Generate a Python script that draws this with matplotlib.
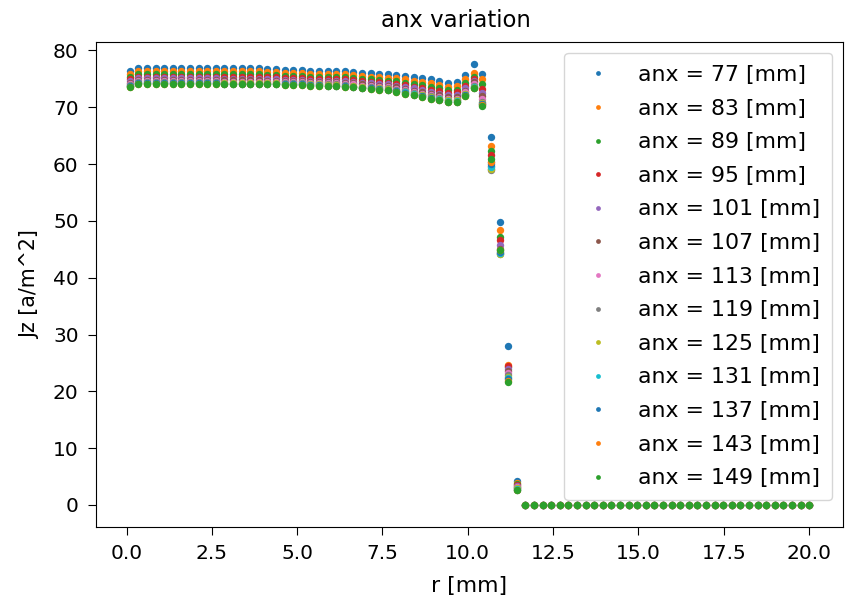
import matplotlib
matplotlib.use("Agg")
import matplotlib.pyplot as plt

# radial sample positions [mm]
r = [0.10, 0.35, 0.60, 0.86, 1.11, 1.36, 1.61, 1.86, 2.12, 2.37,
     2.62, 2.87, 3.12, 3.37, 3.63, 3.88, 4.13, 4.38, 4.63, 4.89,
     5.14, 5.39, 5.64, 5.89, 6.15, 6.40, 6.65, 6.90, 7.15, 7.41,
     7.66, 7.91, 8.16, 8.41, 8.66, 8.92, 9.17, 9.42, 9.67, 9.92,
     10.18, 10.43, 10.68, 10.93, 11.18, 11.44, 11.69, 11.94, 12.19, 12.44,
     12.69, 12.95, 13.20, 13.45, 13.70, 13.95, 14.21, 14.46, 14.71, 14.96,
     15.21, 15.47, 15.72, 15.97, 16.22, 16.47, 16.73, 16.98, 17.23, 17.48,
     17.73, 17.98, 18.24, 18.49, 18.74, 18.99, 19.24, 19.50, 19.75, 20.00]

anx = [77, 83, 89, 95, 101, 107, 113, 119, 125, 131, 137, 143, 149]

# outside the conductor Jz is zero
jz_tail = [0.0, 0.0, 0.0, 0.0, 0.0, 0.0, 0.0, 0.0, 0.0, 0.0,
           0.0, 0.0, 0.0, 0.0, 0.0, 0.0, 0.0, 0.0, 0.0, 0.0,
           0.0, 0.0, 0.0, 0.0, 0.0, 0.0, 0.0, 0.0, 0.0, 0.0,
           0.0, 0.0, 0.0, 0.0]

jz_77 = [76.3, 76.9, 76.9, 76.9, 76.9, 76.9, 76.9, 76.9, 76.9, 76.9,
         76.9, 76.9, 76.9, 76.9, 76.9, 76.9, 76.8, 76.8, 76.5, 76.5,
         76.5, 76.4, 76.4, 76.3, 76.3, 76.3, 76.2, 76.0, 76.0, 75.9,
         75.8, 75.7, 75.5, 75.3, 75.1, 74.9, 74.6, 74.3, 74.4, 75.6,
         77.6, 75.9, 64.7, 49.8, 27.9, 4.2] + jz_tail
jz_83 = [75.8, 76.3, 76.3, 76.3, 76.3, 76.3, 76.3, 76.3, 76.3, 76.3,
         76.3, 76.3, 76.3, 76.3, 76.3, 76.3, 76.2, 76.2, 76.0, 76.0,
         76.0, 75.9, 75.9, 75.8, 75.8, 75.8, 75.7, 75.5, 75.4, 75.3,
         75.2, 75.1, 74.9, 74.7, 74.4, 74.2, 73.9, 73.6, 73.7, 74.9,
         76.0, 75.0, 63.2, 48.4, 24.6, 3.9] + jz_tail
jz_89 = [75.3, 75.8, 75.8, 75.8, 75.8, 75.8, 75.8, 75.8, 75.8, 75.8,
         75.8, 75.8, 75.8, 75.8, 75.8, 75.8, 75.7, 75.7, 75.5, 75.5,
         75.5, 75.4, 75.4, 75.3, 75.3, 75.3, 75.2, 75.0, 74.9, 74.8,
         74.7, 74.6, 74.3, 74.1, 73.9, 73.6, 73.3, 73.0, 73.1, 74.2,
         75.3, 74.0, 62.3, 47.2, 24.3, 3.7] + jz_tail
jz_95 = [74.9, 75.4, 75.4, 75.4, 75.4, 75.4, 75.4, 75.4, 75.4, 75.4,
         75.4, 75.4, 75.4, 75.4, 75.4, 75.4, 75.3, 75.3, 75.1, 75.1,
         75.1, 75.0, 75.0, 74.9, 74.9, 74.9, 74.8, 74.6, 74.5, 74.4,
         74.3, 74.1, 73.9, 73.6, 73.4, 73.1, 72.8, 72.5, 72.6, 73.7,
         75.0, 73.2, 61.6, 46.6, 24.5, 3.5] + jz_tail
jz_101 = [74.6, 75.1, 75.1, 75.1, 75.1, 75.1, 75.1, 75.1, 75.1, 75.1,
          75.1, 75.0, 75.0, 75.0, 75.0, 75.0, 75.0, 75.0, 74.8, 74.8,
          74.8, 74.7, 74.7, 74.6, 74.6, 74.6, 74.5, 74.3, 74.2, 74.1,
          74.0, 73.8, 73.5, 73.3, 73.0, 72.7, 72.4, 72.1, 72.2, 73.3,
          74.7, 72.5, 60.4, 45.8, 24.0, 3.4] + jz_tail
jz_107 = [74.3, 74.8, 74.8, 74.8, 74.8, 74.8, 74.8, 74.8, 74.8, 74.8,
          74.8, 74.8, 74.8, 74.8, 74.8, 74.8, 74.7, 74.7, 74.6, 74.6,
          74.6, 74.5, 74.5, 74.4, 74.4, 74.3, 74.2, 74.0, 73.9, 73.8,
          73.7, 73.5, 73.2, 72.9, 72.7, 72.4, 72.1, 71.8, 71.8, 72.9,
          74.4, 71.9, 59.6, 45.0, 23.6, 3.2] + jz_tail
jz_113 = [74.1, 74.6, 74.6, 74.6, 74.6, 74.6, 74.6, 74.6, 74.6, 74.6,
          74.6, 74.5, 74.5, 74.5, 74.5, 74.5, 74.5, 74.5, 74.4, 74.4,
          74.4, 74.3, 74.3, 74.2, 74.2, 74.1, 74.0, 73.8, 73.7, 73.6,
          73.5, 73.2, 73.0, 72.7, 72.4, 72.1, 71.8, 71.5, 71.5, 72.7,
          74.0, 71.4, 59.2, 44.4, 23.2, 3.1] + jz_tail
jz_119 = [73.9, 74.4, 74.4, 74.4, 74.4, 74.4, 74.4, 74.4, 74.4, 74.4,
          74.4, 74.3, 74.3, 74.3, 74.3, 74.3, 74.3, 74.3, 74.2, 74.2,
          74.2, 74.1, 74.1, 74.0, 74.0, 73.9, 73.8, 73.6, 73.5, 73.4,
          73.3, 73.1, 72.8, 72.5, 72.2, 71.9, 71.6, 71.3, 71.3, 72.4,
          73.8, 71.0, 58.9, 44.1, 22.9, 3.0] + jz_tail
jz_125 = [73.8, 74.3, 74.3, 74.3, 74.3, 74.3, 74.3, 74.3, 74.3, 74.3,
          74.3, 74.2, 74.2, 74.2, 74.2, 74.2, 74.2, 74.2, 74.1, 74.1,
          74.1, 74.0, 74.0, 73.9, 73.9, 73.8, 73.7, 73.5, 73.4, 73.3,
          73.2, 72.9, 72.7, 72.4, 72.1, 71.8, 71.5, 71.2, 71.2, 72.3,
          73.6, 70.8, 59.1, 44.2, 22.6, 2.9] + jz_tail
jz_131 = [73.7, 74.2, 74.2, 74.2, 74.2, 74.2, 74.2, 74.2, 74.2, 74.2,
          74.2, 74.1, 74.1, 74.1, 74.1, 74.1, 74.1, 74.1, 74.0, 74.0,
          74.0, 73.9, 73.9, 73.8, 73.8, 73.7, 73.6, 73.4, 73.3, 73.2,
          73.1, 72.9, 72.6, 72.3, 72.0, 71.7, 71.4, 71.1, 71.1, 72.2,
          73.5, 70.6, 59.5, 44.4, 22.3, 2.8] + jz_tail
jz_137 = [73.7, 74.2, 74.2, 74.2, 74.2, 74.2, 74.2, 74.2, 74.2, 74.2,
          74.2, 74.1, 74.1, 74.1, 74.1, 74.1, 74.1, 74.1, 74.0, 74.0,
          74.0, 73.9, 73.9, 73.8, 73.8, 73.7, 73.6, 73.4, 73.3, 73.2,
          73.1, 72.8, 72.5, 72.2, 71.9, 71.6, 71.3, 71.0, 71.0, 72.1,
          73.4, 70.5, 60.0, 44.6, 22.1, 2.7] + jz_tail
jz_143 = [73.6, 74.1, 74.1, 74.1, 74.1, 74.1, 74.1, 74.1, 74.1, 74.1,
          74.1, 74.0, 74.0, 74.0, 74.0, 74.0, 74.0, 74.0, 73.9, 73.9,
          73.9, 73.8, 73.8, 73.7, 73.7, 73.6, 73.5, 73.3, 73.2, 73.1,
          73.0, 72.7, 72.4, 72.1, 71.8, 71.5, 71.2, 70.9, 70.9, 72.0,
          73.3, 70.4, 60.4, 44.8, 21.9, 2.7] + jz_tail
jz_149 = [73.6, 74.1, 74.1, 74.1, 74.1, 74.1, 74.1, 74.1, 74.1, 74.1,
          74.1, 74.0, 74.0, 74.0, 74.0, 74.0, 74.0, 74.0, 73.9, 73.9,
          73.9, 73.8, 73.8, 73.7, 73.7, 73.6, 73.5, 73.3, 73.2, 73.1,
          73.0, 72.7, 72.4, 72.1, 71.8, 71.5, 71.2, 70.9, 70.9, 72.0,
          73.3, 70.3, 60.8, 44.9, 21.7, 2.6] + jz_tail

series = [jz_77, jz_83, jz_89, jz_95, jz_101, jz_107, jz_113,
          jz_119, jz_125, jz_131, jz_137, jz_143, jz_149]

fig = plt.figure(figsize=(8.48, 6.01), dpi=100)
ax = fig.add_axes([96 / 848, 1 - 527 / 601, (843 - 96) / 848, (527 - 42) / 601])

for a, jz in zip(anx, series):
    ax.plot(r, jz, 'o', ms=5.3, mew=0, label='anx = %d [mm]' % a)

ax.set_title('anx variation', fontsize=16.4, pad=11, x=0.482)
ax.set_xlabel('r [mm]', fontsize=15.8, labelpad=9)
ax.set_ylabel('Jz [a/m^2]', fontsize=14.8, labelpad=9)
ax.tick_params(labelsize=14.5, length=6, pad=6.5)
ax.set_xticks([0.0, 2.5, 5.0, 7.5, 10.0, 12.5, 15.0, 17.5, 20.0])
ax.set_yticks([0, 10, 20, 30, 40, 50, 60, 70, 80])
ax.legend(loc='upper right', fontsize=15.8, markerscale=0.65,
          labelspacing=0.62, borderpad=0.55)

fig.savefig('out.png', dpi=100)
